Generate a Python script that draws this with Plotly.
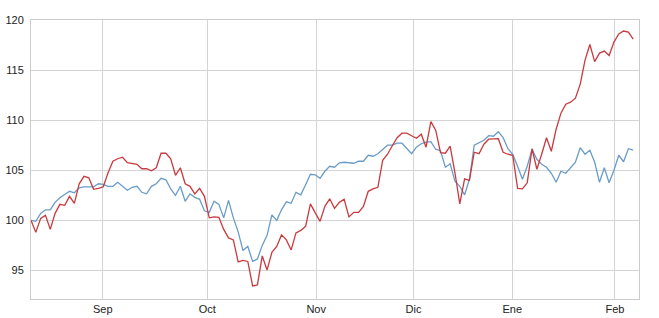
import plotly.graph_objects as go

# Normalised index series (base 100), one value per trading session
red_series = [
    100, 98.8, 100.2, 100.5, 99.1, 100.7, 101.6, 101.5, 102.4, 101.7,
    103.65, 104.4, 104.25, 103.1, 103.2, 103.35, 104.75, 105.9, 106.15, 106.3,
    105.75, 105.65, 105.6, 105.15, 105.15, 104.95, 105.25, 106.7, 106.7, 106.15,
    104.5, 105.25, 103.65, 103.4, 102.65, 103.2, 102.4, 100.25, 100.35, 100.3,
    99.1, 98.25, 98.05, 95.85, 96.0, 95.9, 93.45, 93.55, 96.45, 95.05,
    96.8, 97.4, 98.55, 98.05, 97.05, 98.75, 99.0, 99.4, 101.65, 100.75,
    99.9, 101.4, 102.15, 101.2, 101.8, 102.1, 100.35, 100.8, 100.8, 101.4,
    102.9, 103.15, 103.3, 106.0, 106.6, 107.45, 108.25, 108.7, 108.7, 108.45,
    108.2, 108.6, 107.3, 109.85, 109.0, 106.75, 106.7, 107.4, 104.75, 101.65,
    104.15, 104.0, 106.8, 106.65, 107.6, 108.1, 108.15, 108.15, 106.8, 106.6,
    106.5, 103.2, 103.15, 103.75, 107.15, 105.1, 106.6, 108.25, 106.9, 109.1,
    110.7, 111.6, 111.8, 112.2, 113.6, 116.0, 117.55, 115.85, 116.7, 116.9,
    116.45, 117.8, 118.6, 118.9, 118.8, 118.1,
]

blue_series = [
    100, 99.9, 100.7, 101.05, 101.05, 101.8, 102.25, 102.6, 102.9, 102.75,
    103.25, 103.35, 103.35, 103.35, 103.65, 103.6, 103.4, 103.4, 103.8, 103.4,
    103.0, 103.3, 103.4, 102.8, 102.65, 103.4, 103.65, 104.2, 104.05, 103.15,
    102.5, 103.4, 101.9, 102.65, 102.3, 102.1, 100.95, 100.8, 101.9, 101.6,
    100.25, 102.0, 100.25, 98.85, 97.0, 97.4, 95.9, 96.15, 97.5, 98.5,
    100.55, 100.0, 101.05, 101.85, 101.7, 102.8, 102.55, 103.55, 104.6, 104.55,
    104.2, 104.9, 105.4, 105.3, 105.75, 105.8, 105.75, 105.7, 105.9, 105.9,
    106.5, 106.4, 106.65, 107.1, 107.5, 107.5, 107.7, 107.7, 107.15, 106.65,
    107.3, 107.65, 107.8, 107.85, 107.1, 106.95, 105.3, 105.65, 103.9, 103.4,
    102.55, 104.1, 107.5, 107.75, 108.0, 108.45, 108.4, 108.85, 108.25, 107.15,
    106.6, 105.4, 104.1, 105.4, 107.1, 106.1, 105.6, 105.3, 104.7, 103.8,
    104.9, 104.7, 105.2, 105.8, 107.25, 106.6, 107.0, 105.8, 103.8, 105.25,
    103.75, 105.0, 106.5, 105.85, 107.15, 107.0,
]

sessions = list(range(len(red_series)))

month_tick_positions = [14.9, 36.6, 59.2, 79.4, 99.9, 121.2]
month_tick_labels = ["Sep", "Oct", "Nov", "Dic", "Ene", "Feb"]
y_tick_values = [95, 100, 105, 110, 115, 120]

fig = go.Figure()
fig.add_trace(go.Scatter(x=sessions, y=blue_series, mode="lines",
                         line=dict(color="#6a9cc8", width=1.3), showlegend=False))
fig.add_trace(go.Scatter(x=sessions, y=red_series, mode="lines",
                         line=dict(color="#c93a3f", width=1.3), showlegend=False))

axis_common = dict(showgrid=True, gridcolor="#d4d4d4", gridwidth=1,
                   showline=True, linecolor="#cccccc", linewidth=1, mirror=True,
                   zeroline=False, ticks="", automargin=False,
                   tickfont=dict(family="Liberation Sans, Arial", size=11, color="#222222"))

fig.update_xaxes(range=[0, 126.2], tickmode="array",
                 tickvals=month_tick_positions, ticktext=month_tick_labels,
                 ticklabelstandoff=0, **axis_common)
fig.update_yaxes(range=[92.15, 120.0], tickmode="array",
                 tickvals=y_tick_values, ticklabelstandoff=4, **axis_common)

fig.update_layout(width=659, height=318,
                  margin=dict(l=31, r=20, t=20, b=19),
                  paper_bgcolor="white", plot_bgcolor="white")

fig.write_html("out.html")
